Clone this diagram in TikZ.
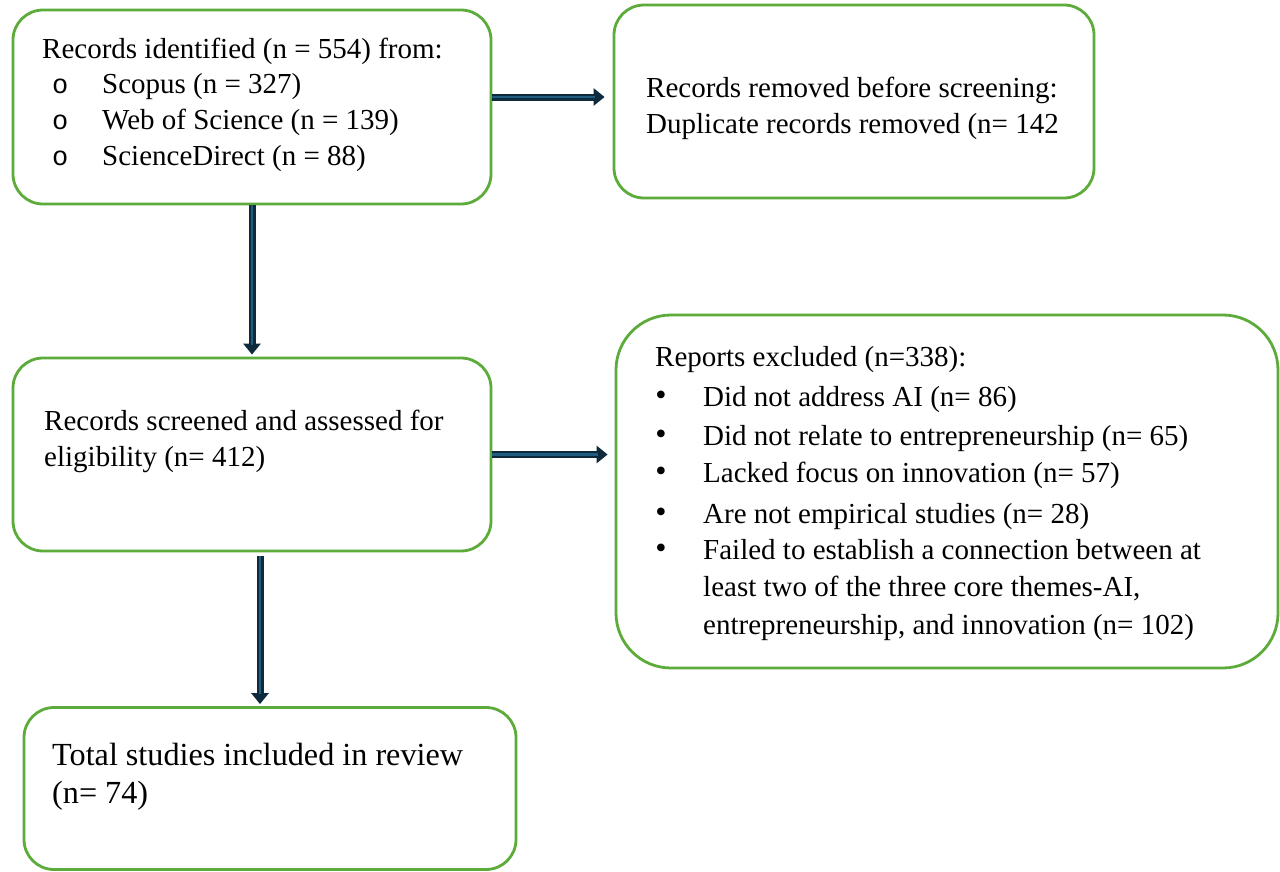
\documentclass[tikz,border=0pt]{standalone}
\usepackage{fontspec}
\setmainfont{Liberation Serif}
\newfontfamily\circfont{Liberation Mono}
\usetikzlibrary{arrows.meta,calc}
\definecolor{boxgreen}{HTML}{5DAB3A}
\definecolor{arrdark}{HTML}{0E2B3E}
\definecolor{arrblue}{HTML}{1F5C80}
\begin{document}
\begin{tikzpicture}[x=1pt,y=-1pt,
  box/.style={draw=boxgreen, line width=2.8pt, rounded corners=30pt, inner sep=0pt},
  txt/.style={anchor=base west, inner sep=0pt, font=\fontsize{29}{34}\selectfont},
  bigtxt/.style={anchor=base west, inner sep=0pt, font=\fontsize{32.2}{38}\selectfont},
  circ/.style={anchor=base west, inner sep=0pt, font=\fontsize{27}{32}\circfont},
  dot/.style={anchor=center, inner sep=0pt, font=\fontsize{32}{34}\selectfont},
  arrout/.style={draw=arrdark, line width=7pt, -{Triangle[length=11pt 0 0, width=17pt 0 0]}},
  arrin/.style={draw=arrblue, line width=2.5pt, shorten >=10pt}]
\useasboundingbox (0,0) rectangle (1280,871);
\fill[white] (0,0) rectangle (1280,871);

% boxes
\node[box, minimum width=478pt, minimum height=194pt] (ident) at (252,107) {};
\node[box, minimum width=480pt, minimum height=193pt] (removed) at (854,101.5) {};
\node[box, minimum width=478pt, minimum height=193pt] (screen) at (252,454.5) {};
\node[box, rounded corners=55pt, minimum width=662pt, minimum height=353pt] (excl) at (947,491.5) {};
\node[box, minimum width=492pt, minimum height=162pt] (incl) at (270,788.5) {};

% texts box 1
\node[txt] (t1a) at (42,58) {Records identified (n = 554) from:};
\node[circ] (b1a) at (52,93) {o};
\node[txt] (t1b) at (102,93) {Scopus (n = 327)};
\node[circ] (b1b) at (52,129) {o};
\node[txt] (t1c) at (102,129) {Web of Science (n = 139)};
\node[circ] (b1c) at (52,165) {o};
\node[txt] (t1d) at (102,165) {ScienceDirect (n = 88)};

% box 2
\node[txt] (t2a) at (646,97) {Records removed before screening:};
\node[txt] (t2b) at (646,133) {Duplicate records removed (n= 142};

% box 3
\node[txt] (t3a) at (44,430) {Records screened and assessed for};
\node[txt] (t3b) at (44,466) {eligibility (n= 412)};

% box 4
\node[txt] (t4) at (655,366) {Reports excluded (n=338):};
\node[dot] (b4a) at (661,398) {•};
\node[txt] (t4a) at (703,406) {Did not address AI (n= 86)};
\node[dot] (b4b) at (661,437) {•};
\node[txt] (t4b) at (703,445) {Did not relate to entrepreneurship (n= 65)};
\node[dot] (b4c) at (661,474) {•};
\node[txt] (t4c) at (703,482) {Lacked focus on innovation (n= 57)};
\node[dot] (b4d) at (661,515) {•};
\node[txt] (t4d) at (703,523) {Are not empirical studies (n= 28)};
\node[dot] (b4e) at (661,551) {•};
\node[txt] (t4e) at (703,559) {Failed to establish a connection between at};
\node[txt] (t4f) at (703,596) {least two of the three core themes-AI,};
\node[txt] (t4g) at (703,634) {entrepreneurship, and innovation (n= 102)};

% box 5
\node[bigtxt] (t5a) at (52,765) {Total studies included in review};
\node[bigtxt] (t5b) at (52,803) {(n= 74)};

% arrows
\coordinate (a1s) at ($(ident.east)+(0,-10)$);
\coordinate (a1e) at (a1s -| removed.west);
\draw[arrout, shorten >=8pt] (a1s) -- (a1e);
\draw[arrin, shorten >=18pt] (a1s) -- (a1e);

\draw[arrout, shorten >=2pt] (ident.south) -- (screen.north);
\draw[arrin, shorten >=12pt] (ident.south) -- (screen.north);

\coordinate (a2e) at (screen.east -| excl.west);
\draw[arrout, shorten >=7pt] (screen.east) -- (a2e);
\draw[arrin, shorten >=17pt] (screen.east) -- (a2e);

\coordinate (a3e) at ($(incl.north)+(-10,0)$);
\coordinate (a3s) at (screen.south -| a3e);
\draw[arrout, shorten <=4pt, shorten >=2pt] (a3s) -- (a3e);
\draw[arrin, shorten <=4pt, shorten >=12pt] (a3s) -- (a3e);
\end{tikzpicture}
\end{document}
